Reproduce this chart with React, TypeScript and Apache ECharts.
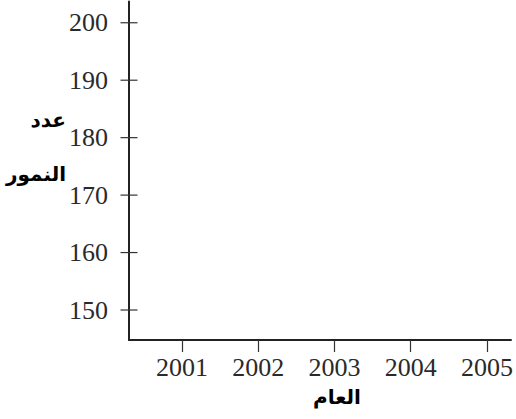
import React, { useEffect, useRef } from "react";
import * as echarts from "echarts";

const years = [2001, 2002, 2003, 2004, 2005];
const yTicks = [150, 160, 170, 180, 190, 200];
const xRange = [2000.305, 2005.315];
const yRange = [144.78, 203.7];
const yTitleLines = ["عدد", "النمور"];
const xTitle = "العام";

export default function App() {
  const ref = useRef<HTMLDivElement>(null);
  useEffect(() => {
    if (!ref.current) return;
    const chart = echarts.init(ref.current, null, { renderer: "svg" });
    const labelStyle = {
      fontFamily: "Liberation Serif",
      fontSize: 26,
      color: "#2a2a2a",
    };
    chart.setOption({
      animation: false,
      grid: { left: 129, top: 1.5, right: 0, bottom: 79, containLabel: false },
      xAxis: {
        type: "value",
        min: xRange[0],
        max: xRange[1],
        axisLine: { show: true, lineStyle: { color: "#222", width: 2 } },
        axisTick: {
          show: true,
          length: 12,
          customValues: years,
          lineStyle: { color: "#333", width: 1.2 },
        },
        axisLabel: {
          ...labelStyle,
          margin: 14,
          customValues: years,
          formatter: (v: number) => String(Math.round(v)),
        },
        splitLine: { show: false },
      },
      yAxis: {
        type: "value",
        position: "left",
        min: yRange[0],
        max: yRange[1],
        axisLine: { show: true, lineStyle: { color: "#222", width: 2 } },
        axisTick: { show: false },
        axisLabel: {
          ...labelStyle,
          margin: 21,
          customValues: yTicks,
          formatter: (v: number) => String(Math.round(v)),
        },
        splitLine: { show: false },
      },
      series: [
        {
          type: "custom",
          clip: false,
          silent: true,
          data: yTicks.map((v) => [xRange[0], v]),
          renderItem: (params: any, api: any) => {
            const p = api.coord([api.value(0), api.value(1)]);
            return {
              type: "line",
              shape: { x1: p[0] - 8.5, y1: p[1], x2: p[0] + 8.5, y2: p[1] },
              style: { stroke: "#333", lineWidth: 1.2 },
            };
          },
        },
      ],
      graphic: [
        {
          type: "text",
          x: 66,
          y: 120,
          style: {
            text: yTitleLines[0],
            textAlign: "right",
            textVerticalAlign: "middle",
            font: 'bold 20px "DejaVu Sans"',
            fill: "#000",
          },
        },
        {
          type: "text",
          x: 66,
          y: 174,
          style: {
            text: yTitleLines[1],
            textAlign: "right",
            textVerticalAlign: "middle",
            font: 'bold 20px "DejaVu Sans"',
            fill: "#000",
          },
        },
        {
          type: "text",
          x: 337,
          y: 397,
          style: {
            text: xTitle,
            textAlign: "center",
            textVerticalAlign: "middle",
            font: 'bold 20px "DejaVu Sans"',
            fill: "#000",
          },
        },
      ],
    });
    return () => chart.dispose();
  }, []);
  return (
    <div
      ref={ref}
      style={{ position: "fixed", left: 0, top: 0, width: 516, height: 419, background: "#fff" }}
    />
  );
}
